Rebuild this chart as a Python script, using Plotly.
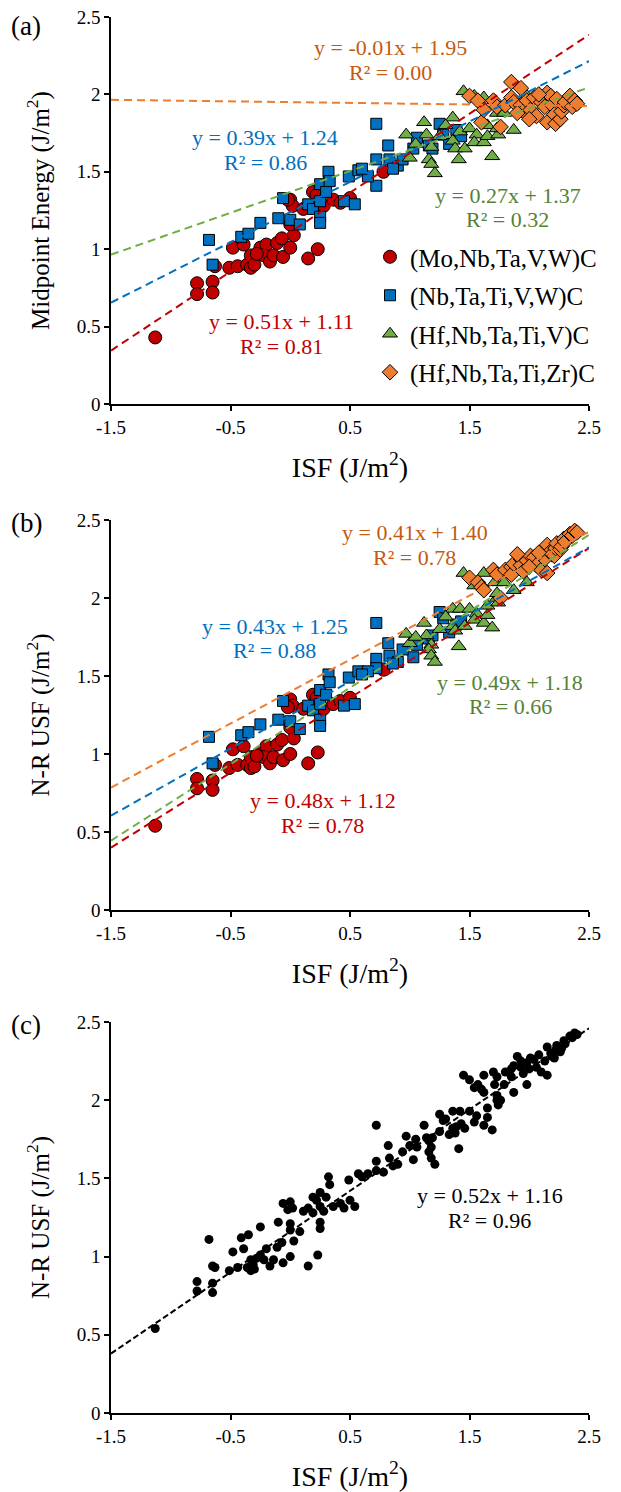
import plotly.graph_objects as go

# ISF (x) with midpoint energy (panel a) and N-R USF (panel b) for each carbide system
mo_isf = [-1.13, -0.78, -0.78, -0.65, -0.65, -0.63, -0.51, -0.48, -0.44, -0.39, -0.36, -0.33, -0.31, -0.33,
          -0.25, -0.20, -0.22, -0.17, -0.14, -0.11, -0.07, -0.06, 0.00, 0.03, 0.00, 0.15, 0.23, 0.00,
          0.02, 0.11, 0.19, 0.28, 0.36, 0.42, 0.50, 0.78, -0.02, 0.22, -0.30, -0.28]
mo_mid = [0.43, 0.78, 0.71, 0.79, 0.72, 0.89, 0.88, 1.01, 0.89, 1.03, 0.90, 0.88, 0.94, 0.96,
          1.01, 1.03, 0.96, 0.92, 0.96, 1.04, 1.07, 0.95, 1.01, 1.09, 1.16, 0.94, 1.00, 1.32,
          1.28, 1.26, 1.37, 1.28, 1.32, 1.30, 1.33, 1.50, 1.32, 1.35, 0.90, 0.97]
mo_usf = [0.54, 0.84, 0.78, 0.83, 0.77, 0.93, 0.91, 1.03, 0.93, 1.05, 0.93, 0.91, 0.95, 0.98,
          1.01, 1.05, 0.98, 0.94, 0.98, 1.06, 1.09, 0.96, 1.00, 1.10, 1.17, 0.94, 1.01, 1.35,
          1.31, 1.29, 1.38, 1.29, 1.32, 1.34, 1.36, 1.54, 1.30, 1.36, 0.92, 0.99]

nb_isf = [-0.68, -0.65, -0.41, -0.35, -0.25, -0.10, 0.00, 0.08, -0.06, 0.15, 0.19, 0.25, 0.25, 0.25,
          0.25, 0.30, 0.32, 0.33, 0.45, 0.54, 0.49, 0.57, 0.72, 0.82, 0.72, 0.83, 0.90, 0.72,
          0.65, 0.60, 1.03, 1.06, 1.16, 1.19, 1.25, 1.28, 1.39, 1.43, 1.33, 0.94, 0.86]
nb_mid = [1.06, 0.90, 1.08, 1.10, 1.17, 1.20, 1.19, 1.16, 1.33, 1.29, 1.26, 1.21, 1.17, 1.31,
          1.42, 1.37, 1.50, 1.44, 1.31, 1.29, 1.47, 1.51, 1.81, 1.67, 1.58, 1.58, 1.54, 1.41,
          1.47, 1.52, 1.65, 1.72, 1.67, 1.65, 1.81, 1.74, 1.77, 1.73, 1.68, 1.58, 1.52]
nb_usf = [1.11, 0.94, 1.12, 1.14, 1.19, 1.22, 1.21, 1.16, 1.34, 1.31, 1.28, 1.22, 1.18, 1.32,
          1.41, 1.38, 1.51, 1.46, 1.31, 1.32, 1.49, 1.53, 1.84, 1.71, 1.61, 1.63, 1.59, 1.55,
          1.53, 1.51, 1.62, 1.70, 1.74, 1.76, 1.91, 1.87, 1.83, 1.85, 1.78, 1.67, 1.58]

hfv_isf = [0.97, 1.00, 1.12, 1.14, 1.18, 1.16, 1.18, 1.21, 1.36, 1.36, 1.38, 1.41, 1.45, 1.46,
           1.42, 1.50, 1.56, 1.54, 1.62, 1.65, 1.69, 1.65, 1.62, 1.71, 1.73, 1.74, 1.73, 1.79,
           1.87, 1.98, 1.54, 1.30, 1.05, 1.25]
hfv_mid = [1.74, 1.59, 1.82, 1.74, 1.66, 1.58, 1.55, 1.49, 1.85, 1.70, 1.65, 1.58, 2.02, 1.65,
           1.76, 1.78, 1.74, 1.69, 1.69, 1.73, 1.60, 1.80, 1.98, 1.96, 1.88, 1.74, 1.78, 1.88,
           1.77, 1.99, 1.99, 1.80, 1.68, 1.73]
hfv_usf = [1.77, 1.71, 1.84, 1.76, 1.70, 1.67, 1.63, 1.59, 1.93, 1.82, 1.79, 1.69, 2.16, 1.82,
           1.93, 1.93, 1.90, 1.86, 1.84, 1.89, 1.81, 1.95, 2.16, 2.10, 2.00, 1.97, 2.03, 2.10,
           2.05, 2.10, 2.08, 1.88, 1.75, 1.80]

hfzr_isf = [1.50, 1.57, 1.60, 1.62, 1.70, 1.73, 1.76, 1.80, 1.85, 1.85, 1.87, 1.93, 1.93, 1.95,
            1.98, 2.01, 2.04, 2.06, 2.10, 2.13, 2.15, 2.15, 2.18, 2.19, 2.21, 2.22, 2.23, 2.26,
            2.27, 2.29, 2.30, 2.34, 2.36, 2.38, 2.40, 2.08, 1.90, 2.00]
hfzr_mid = [1.99, 1.96, 1.82, 1.90, 1.96, 1.92, 1.79, 1.93, 2.08, 1.98, 1.95, 2.04, 1.93, 1.89,
            1.96, 1.90, 1.98, 1.86, 1.95, 1.92, 2.01, 1.82, 1.99, 1.93, 1.87, 1.81, 1.97, 1.84,
            1.89, 1.93, 1.95, 1.99, 1.92, 1.96, 1.94, 2.00, 1.88, 1.84]
hfzr_usf = [2.13, 2.10, 2.07, 2.05, 2.18, 2.15, 2.00, 2.18, 2.20, 2.15, 2.22, 2.25, 2.21, 2.17,
            2.24, 2.27, 2.26, 2.21, 2.18, 2.25, 2.34, 2.16, 2.30, 2.28, 2.27, 2.32, 2.35, 2.31,
            2.33, 2.38, 2.36, 2.41, 2.40, 2.43, 2.42, 2.29, 2.28, 2.20]

names = ["(Mo,Nb,Ta,V,W)C", "(Nb,Ta,Ti,V,W)C", "(Hf,Nb,Ta,Ti,V)C", "(Hf,Nb,Ta,Ti,Zr)C"]
isf = [mo_isf, nb_isf, hfv_isf, hfzr_isf]
mid = [mo_mid, nb_mid, hfv_mid, hfzr_mid]
usf = [mo_usf, nb_usf, hfv_usf, hfzr_usf]

# trendline equations (slope, intercept, R²) as printed on the chart
mid_slope = [0.51, 0.39, 0.27, -0.01]
mid_icpt = [1.11, 1.24, 1.37, 1.95]
mid_r2 = ["0.81", "0.86", "0.32", "0.00"]
usf_slope = [0.48, 0.43, 0.49, 0.41]
usf_icpt = [1.12, 1.25, 1.18, 1.40]
usf_r2 = ["0.78", "0.88", "0.66", "0.78"]
all_slope, all_icpt, all_r2 = 0.52, 1.16, "0.96"

x_ticks = [-1.5, -0.5, 0.5, 1.5, 2.5]
x_labels = ["-1.5", "-0.5", "0.5", "1.5", "2.5"]
y_ticks = [0, 0.5, 1, 1.5, 2, 2.5]
y_labels = ["0", "0.5", "1", "1.5", "2", "2.5"]

colors = ["#C00000", "#0070C0", "#70AD47", "#ED7D31"]
text_colors = ["#C00000", "#0070C0", "#548235", "#C55A11"]
symbols = ["circle", "square", "triangle-up", "diamond"]
sizes = [13, 11, 13, 12]

FONT = "Liberation Serif, Times New Roman, serif"
fig = go.Figure()
x_fit = [-1.5, 2.5]

for i in range(4):
    fig.add_trace(go.Scatter(x=isf[i], y=mid[i], mode="markers", name=names[i],
                             legendgroup=f"g{i}", xaxis="x", yaxis="y",
                             marker=dict(symbol=symbols[i], size=sizes[i], color=colors[i],
                                         line=dict(color="black", width=1))))
for i in range(4):
    fig.add_trace(go.Scatter(x=isf[i], y=usf[i], mode="markers", showlegend=False,
                             legendgroup=f"g{i}", xaxis="x2", yaxis="y2",
                             marker=dict(symbol=symbols[i], size=sizes[i], color=colors[i],
                                         line=dict(color="black", width=1))))
for i in range(4):
    fig.add_trace(go.Scatter(x=x_fit, y=[mid_slope[i] * v + mid_icpt[i] for v in x_fit], mode="lines",
                             showlegend=False, hoverinfo="skip", xaxis="x", yaxis="y",
                             line=dict(color=colors[i], width=2, dash="8px,5px")))
    fig.add_trace(go.Scatter(x=x_fit, y=[usf_slope[i] * v + usf_icpt[i] for v in x_fit], mode="lines",
                             showlegend=False, hoverinfo="skip", xaxis="x2", yaxis="y2",
                             line=dict(color=colors[i], width=2, dash="8px,5px")))

# panel (c): all systems pooled
all_isf = sum(isf, [])
all_usf = sum(usf, [])
fig.add_trace(go.Scatter(x=all_isf, y=all_usf, mode="markers", showlegend=False, xaxis="x3", yaxis="y3",
                         marker=dict(size=9, color="black")))
fig.add_trace(go.Scatter(x=x_fit, y=[all_slope * v + all_icpt for v in x_fit], mode="lines",
                         showlegend=False, hoverinfo="skip", xaxis="x3", yaxis="y3",
                         line=dict(color="black", width=2, dash="6px,3px")))

# page body adds an 8px offset; lay out in screen pixels and compensate
OFF = 8
W, H = 621 - OFF, 1492 - OFF
def px(p):
    return (p - OFF) / W
def py(p):
    return 1 - (p - OFF) / H
def ydom(top, bottom):
    return [py(bottom), py(top)]

xdom = [px(111), px(589)]
ax_common = dict(showline=True, linecolor="black", linewidth=1.5, ticks="outside", ticklen=5,
                 tickcolor="black", tickwidth=1.5, showgrid=False, zeroline=False, automargin=False,
                 ticklabeloverflow="allow", tickfont=dict(family=FONT, size=19, color="black"))

def xaxis(anchor):
    return dict(domain=xdom, range=[-1.5, 2.5], tickvals=x_ticks, ticktext=x_labels, anchor=anchor,
                title=dict(text="ISF (J/m<sup>2</sup>)", font=dict(family=FONT, size=28, color="black"),
                           standoff=21), **ax_common)

def yaxis(anchor, dom, title):
    return dict(domain=dom, range=[0, 2.5], tickvals=y_ticks, ticktext=y_labels, anchor=anchor,
                title=dict(text=title, font=dict(family=FONT, size=25, color="black"), standoff=20),
                **ax_common)

fig.update_layout(
    width=W, height=H, margin=dict(l=0, r=0, t=0, b=0, autoexpand=False),
    paper_bgcolor="white", plot_bgcolor="white",
    font=dict(family=FONT, color="black"),
    xaxis=xaxis("y"), yaxis=yaxis("x", ydom(17, 404), "Midpoint Energy (J/m<sup>2</sup>)"),
    xaxis2=xaxis("y2"), yaxis2=yaxis("x2", ydom(520, 910), "N-R USF (J/m<sup>2</sup>)"),
    xaxis3=xaxis("y3"), yaxis3=yaxis("x3", ydom(1022, 1413), "N-R USF (J/m<sup>2</sup>)"),
    legend=dict(x=px(370), y=py(234), xanchor="left", yanchor="top", tracegroupgap=3,
                font=dict(family=FONT, size=25, color="black"), bgcolor="rgba(0,0,0,0)",
                itemclick=False, itemdoubleclick=False),
)

annotations = []
for lab, yp in [("(a)", 9), ("(b)", 506), ("(c)", 1008)]:
    annotations.append(dict(text=lab, x=px(9), y=py(yp), xref="paper", yref="paper",
                            xanchor="left", yanchor="top", showarrow=False,
                            font=dict(family=FONT, size=27, color="black")))

def eq_text(m, b):
    sign = "-" if m < 0 else ""
    return f"y = {sign}{abs(m):.2f}x + {b:.2f}"

# label centres (data units) for each panel's equations
mid_lab_x = [-0.07, -0.21, 1.82, 0.84]
mid_lab_y = [0.53, 1.72, 1.35, 2.30]
usf_lab_x = [0.27, -0.13, 1.84, 1.04]
usf_lab_y = [0.70, 1.82, 1.46, 2.42]
for i in range(4):
    for xr, yr, lx, ly, m, b, r2 in [("x", "y", mid_lab_x[i], mid_lab_y[i], mid_slope[i], mid_icpt[i], mid_r2[i]),
                                      ("x2", "y2", usf_lab_x[i], usf_lab_y[i], usf_slope[i], usf_icpt[i], usf_r2[i])]:
        annotations.append(dict(text=eq_text(m, b), x=lx, y=ly, xref=xr, yref=yr, showarrow=False,
                                font=dict(family=FONT, size=22, color=text_colors[i])))
        annotations.append(dict(text=f"R² = {r2}", x=lx, y=ly - 0.158, xref=xr, yref=yr, showarrow=False,
                                font=dict(family=FONT, size=22, color=text_colors[i])))
annotations.append(dict(text=eq_text(all_slope, all_icpt), x=1.67, y=1.39, xref="x3", yref="y3",
                        showarrow=False, font=dict(family=FONT, size=22, color="black")))
annotations.append(dict(text=f"R² = {all_r2}", x=1.67, y=1.23, xref="x3", yref="y3",
                        showarrow=False, font=dict(family=FONT, size=22, color="black")))
fig.update_layout(annotations=annotations)

fig.write_html("out.html")
